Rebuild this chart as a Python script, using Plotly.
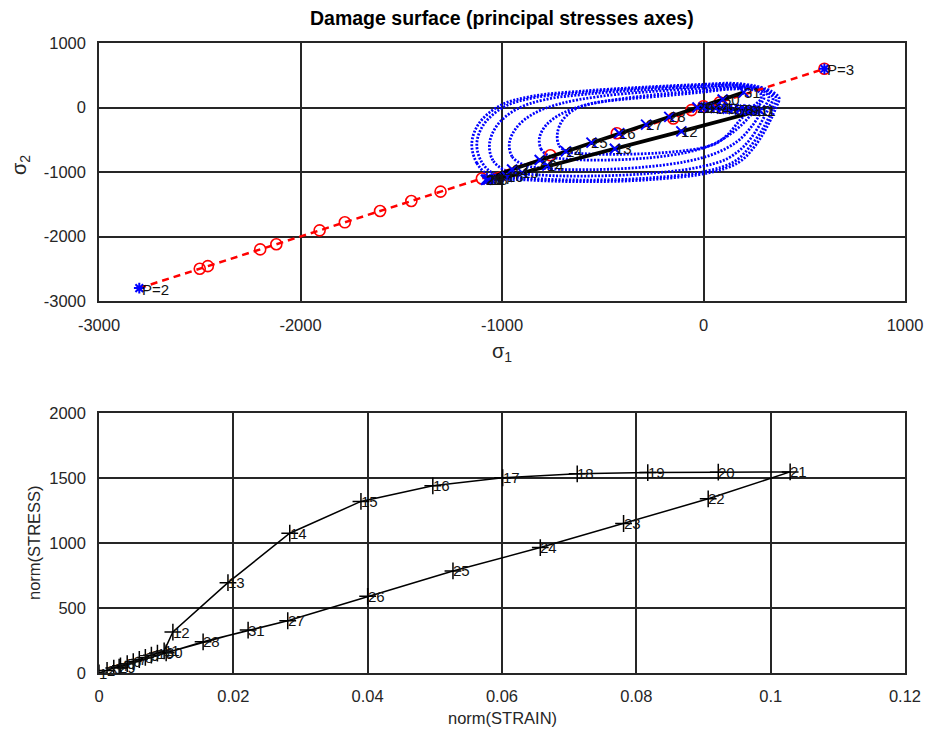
import plotly.graph_objects as go

# ---------------------------------------------------------------------------
# Data
# ---------------------------------------------------------------------------
step_ids = list(range(1, 32))

# stress state at every step, principal axes (sigma_1, sigma_2)
path_s1 = [0, 30, 60, 90, 120, 150, 180, 205, 230, 255, 280,
           -110, -440, -775, -900, -975, -1030, -1055, -1068, -1075, -1080,
           -950, -813, -683, -556, -418, -285, -170, -30, 95, 200]
path_s2 = [0, -5, -10, -15, -20, -25, -30, -35, -40, -44, -47,
           -370, -640, -900, -1010, -1075, -1100, -1110, -1115, -1118, -1120,
           -960, -815, -680, -545, -400, -265, -145, 0, 125, 235]

# norm of strain / norm of stress at every step
strain_norm = [0.0, 0.0012, 0.0022, 0.0032, 0.0042, 0.0051, 0.0060, 0.0069,
               0.0078, 0.0087, 0.0097, 0.0110, 0.0192, 0.0284, 0.0390, 0.0497,
               0.0601, 0.0712, 0.0817, 0.0922, 0.1029, 0.0907, 0.0781, 0.0657,
               0.0527, 0.0400, 0.0281, 0.0155, 0.0030, 0.0100, 0.0222]
stress_norm = [0, 20, 38, 55, 72, 88, 104, 120, 137, 153, 170, 315, 695,
               1075, 1320, 1440, 1502, 1532, 1542, 1545, 1547, 1340, 1150,
               965, 785, 590, 402, 240, 45, 155, 330]

# loading direction between the two path points
dir_s1 = [-2800, 600]
dir_s2 = [-2800, 600]
dir_labels = ["P=2", "P=3"]

# trial states marked on the loading direction
trial_s1 = [-2500, -2460, -2200, -2120, -1905, -1780, -1605, -1450, -1305,
            -1100, -760, -430, -150, -60, 0, 80, 600]
trial_s2 = [-2500, -2460, -2200, -2120, -1905, -1780, -1605, -1450, -1305,
            -1100, -740, -400, -170, -40, 20, 80, 600]

# damage surfaces: one half of each contour (the other half mirrors it
# about the sigma_1 = sigma_2 axis)
surf_half_s1 = [
    [-1060, -1125, -1150, -1115, -1010, -850, -600, -300, 0, 150, 255, 300],
    [-1035, -1100, -1125, -1090, -990, -835, -590, -300, 0, 150, 250, 295],
    [-980, -1045, -1062, -1025, -930, -790, -570, -290, 0, 150, 245, 290],
    [-890, -950, -963, -925, -840, -710, -520, -270, 0, 145, 240, 283],
    [-760, -805, -814, -780, -700, -580, -420, -220, 0, 140, 232, 275],
    [-680, -718, -725, -700, -640, -560, -420, -200, 0, 135, 225, 265],
]
surf_half_s2 = [
    [-1060, -860, -560, -250, 30, 175, 255, 315, 360, 375, 335, 300],
    [-1035, -850, -560, -260, 10, 155, 235, 300, 345, 360, 325, 295],
    [-980, -820, -560, -280, -30, 120, 210, 275, 325, 345, 315, 290],
    [-890, -760, -540, -300, -90, 60, 170, 245, 300, 325, 305, 283],
    [-760, -650, -470, -270, -90, 40, 130, 205, 265, 300, 292, 275],
    [-680, -580, -400, -200, -30, 60, 120, 180, 240, 285, 282, 265],
]

top_ticks = [-3000, -2000, -1000, 0, 1000]
top_ticktext = ["-3000", "-2000", "-1000", "0", "1000"]
bot_xticks = [0, 0.02, 0.04, 0.06, 0.08, 0.1, 0.12]
bot_xticktext = ["0", "0.02", "0.04", "0.06", "0.08", "0.1", "0.12"]
bot_yticks = [0, 500, 1000, 1500, 2000]
bot_yticktext = ["0", "500", "1000", "1500", "2000"]

# ---------------------------------------------------------------------------
# Figure
# ---------------------------------------------------------------------------
W, H = 926, 734
FONT = "Liberation Sans, Arial, sans-serif"
GRID = "#262626"
TXT = "#262626"
BLUE = "#0000ff"
RED = "#ff0000"

fig = go.Figure()

# damage surfaces
for hx, hy in zip(surf_half_s1, surf_half_s2):
    cx = hx + hy[::-1]
    cy = hy + hx[::-1]
    fig.add_trace(go.Scatter(
        x=cx, y=cy, mode="lines", xaxis="x", yaxis="y",
        line=dict(color=BLUE, width=2.8, dash="2px,1.5px", shape="spline", smoothing=1.0),
        hoverinfo="skip"))

# loading direction with trial states
fig.add_trace(go.Scatter(
    x=dir_s1, y=dir_s2, mode="lines", xaxis="x", yaxis="y",
    line=dict(color=RED, width=2.5, dash="7px,5px"), hoverinfo="skip"))
fig.add_trace(go.Scatter(
    x=trial_s1, y=trial_s2, mode="markers", xaxis="x", yaxis="y",
    marker=dict(symbol="circle-open", size=11, color=RED, line=dict(width=1.6, color=RED)),
    hoverinfo="skip"))
fig.add_trace(go.Scatter(
    x=dir_s1, y=dir_s2, mode="markers", xaxis="x", yaxis="y",
    marker=dict(symbol="asterisk-open", size=9, color=BLUE, line=dict(width=2, color=BLUE)),
    hoverinfo="skip"))

# stress path
fig.add_trace(go.Scatter(
    x=path_s1, y=path_s2, mode="lines+markers", xaxis="x", yaxis="y",
    line=dict(color="black", width=3.8),
    marker=dict(symbol="x-thin-open", size=10, color=BLUE, line=dict(width=2, color=BLUE)),
    hoverinfo="skip"))

# norm(STRESS) vs norm(STRAIN)
fig.add_trace(go.Scatter(
    x=strain_norm, y=stress_norm, mode="lines+markers", xaxis="x2", yaxis="y2",
    line=dict(color="black", width=1.5),
    marker=dict(symbol="cross-thin-open", size=12, color="black", line=dict(width=1.5, color="black")),
    hoverinfo="skip"))

annotations = []
lab_font = dict(family=FONT, size=15, color="#111111")
for i, a, b in zip(step_ids, path_s1, path_s2):
    annotations.append(dict(x=a, y=b, xref="x", yref="y", text=str(i), showarrow=False,
                            xanchor="left", yanchor="middle", xshift=-2, font=lab_font))
for t, a, b in zip(dir_labels, dir_s1, dir_s2):
    annotations.append(dict(x=a, y=b, xref="x", yref="y", text=t, showarrow=False,
                            xanchor="left", yanchor="middle", xshift=1, yshift=-1, font=lab_font))
for i, a, b in zip(step_ids, strain_norm, stress_norm):
    annotations.append(dict(x=a, y=b, xref="x2", yref="y2", text=str(i), showarrow=False,
                            xanchor="left", yanchor="middle", xshift=-2, font=lab_font))

# titles
annotations.append(dict(x=502 / W, y=1 - 18 / H, xref="paper", yref="paper",
                        text="<b>Damage surface (principal stresses axes)</b>", showarrow=False,
                        xanchor="center", yanchor="middle",
                        font=dict(family=FONT, size=19.5, color="black")))
annotations.append(dict(x=502 / W, y=1 - 352 / H, xref="paper", yref="paper",
                        text="σ<sub>1</sub>", showarrow=False, xanchor="center", yanchor="middle",
                        font=dict(family=FONT, size=20, color=TXT)))
annotations.append(dict(x=20 / W, y=1 - 165 / H, xref="paper", yref="paper",
                        text="σ<sub>2</sub>", showarrow=False, textangle=-90,
                        xanchor="center", yanchor="middle",
                        font=dict(family=FONT, size=20, color=TXT)))
annotations.append(dict(x=502 / W, y=1 - 718 / H, xref="paper", yref="paper",
                        text="norm(STRAIN)", showarrow=False, xanchor="center", yanchor="middle",
                        font=dict(family=FONT, size=16.5, color=TXT)))
annotations.append(dict(x=34 / W, y=1 - 543 / H, xref="paper", yref="paper",
                        text="norm(STRESS)", showarrow=False, textangle=-90,
                        xanchor="center", yanchor="middle",
                        font=dict(family=FONT, size=16.5, color=TXT)))

axis_common = dict(showgrid=True, gridcolor=GRID, gridwidth=1.5, zeroline=False,
                   showline=True, mirror=True, linecolor=GRID, linewidth=1.5,
                   ticks="", tickfont=dict(family=FONT, size=16.5, color=TXT),
                   fixedrange=True, automargin=False)

xdom = [99 / W, 905 / W]
fig.update_layout(
    width=W, height=H,
    margin=dict(l=0, r=0, t=0, b=0, pad=0, autoexpand=False),
    paper_bgcolor="white", plot_bgcolor="white",
    showlegend=False,
    xaxis=dict(domain=xdom, range=[-3000, 1000], tickvals=top_ticks, ticktext=top_ticktext,
               anchor="y", ticklabelstandoff=8, **axis_common),
    yaxis=dict(domain=[1 - 301 / H, 1 - 43 / H], range=[-3000, 1000], tickvals=top_ticks,
               ticktext=top_ticktext, anchor="x", ticklabelstandoff=8, **axis_common),
    xaxis2=dict(domain=xdom, range=[0, 0.12], tickvals=bot_xticks, ticktext=bot_xticktext,
                anchor="y2", ticklabelstandoff=7, **axis_common),
    yaxis2=dict(domain=[1 - 673 / H, 1 - 413 / H], range=[0, 2000], tickvals=bot_yticks,
                ticktext=bot_yticktext, anchor="x2", ticklabelstandoff=8, **axis_common),
    annotations=annotations,
)

fig.write_html("out.html")
